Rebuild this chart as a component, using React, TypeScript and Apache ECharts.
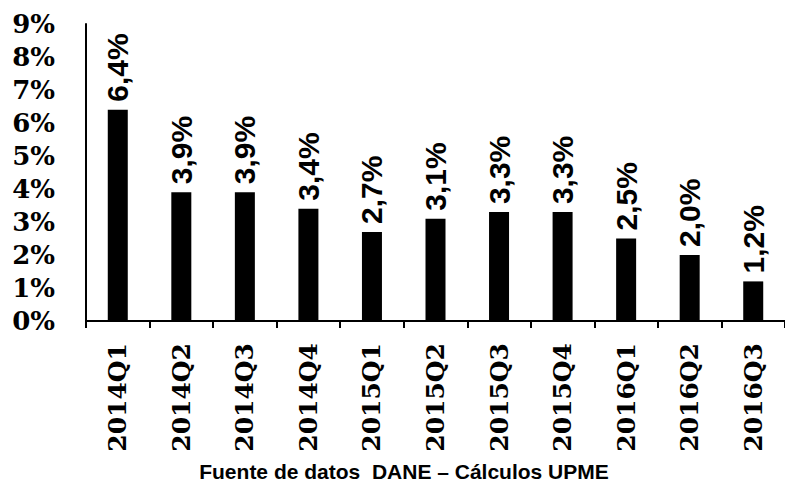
import React, { useEffect, useRef } from "react";
import * as echarts from "echarts";

const categories = ["2014Q1", "2014Q2", "2014Q3", "2014Q4", "2015Q1", "2015Q2", "2015Q3", "2015Q4", "2016Q1", "2016Q2", "2016Q3"];
const growth = [6.4, 3.9, 3.9, 3.4, 2.7, 3.1, 3.3, 3.3, 2.5, 2.0, 1.2];
const yTicks = { min: 0, max: 9, interval: 1 };
const footer = "Fuente de datos  DANE \u2013 C\u00e1lculos UPME";

export default function App() {
  const ref = useRef<HTMLDivElement>(null);
  useEffect(() => {
    const chart = echarts.init(ref.current!, null, { renderer: "svg" });
    chart.setOption({
      animation: false,
      backgroundColor: "#ffffff",
      grid: { left: 86, right: -10, top: 24, bottom: 160, containLabel: false },
      xAxis: {
        type: "category",
        data: categories,
        axisLine: { lineStyle: { color: "#000", width: 2 } },
        axisTick: { show: true, length: 7, lineStyle: { color: "#000", width: 2 } },
        axisLabel: {
          rotate: 90,
          margin: 22,
          color: "#000",
          fontFamily: "DejaVu Serif",
          fontWeight: "bold",
          fontSize: 25,
          interval: 0,
        },
      },
      yAxis: {
        type: "value",
        min: yTicks.min,
        max: yTicks.max,
        interval: yTicks.interval,
        splitLine: { show: false },
        axisLine: { show: true, lineStyle: { color: "#000", width: 2 } },
        axisTick: { show: false },
        axisLabel: {
          formatter: "{value}%",
          margin: 31,
          color: "#000",
          fontFamily: "DejaVu Serif",
          fontWeight: "bold",
          fontSize: 26,
        },
      },
      graphic: [
        {
          type: "text",
          x: 404,
          y: 471,
          style: {
            text: footer,
            fill: "#000",
            font: "bold 21px 'Liberation Sans'",
            textAlign: "center",
            textVerticalAlign: "middle",
          },
        },
      ],
      series: [
        {
          type: "bar",
          data: growth,
          barWidth: 20,
          itemStyle: { color: "#000" },
          label: {
            show: true,
            position: "top",
            rotate: 90,
            align: "left",
            verticalAlign: "middle",
            distance: 8,
            color: "#000",
            fontFamily: "Liberation Sans",
            fontWeight: "bold",
            fontSize: 30,
            formatter: (p: any) => p.value.toFixed(1).replace(".", ",") + "%",
          },
        },
      ],
    });
    return () => chart.dispose();
  }, []);
  return (
    <div
      ref={ref}
      style={{ position: "absolute", left: 0, top: 0, width: 785, height: 481 }}
    />
  );
}
